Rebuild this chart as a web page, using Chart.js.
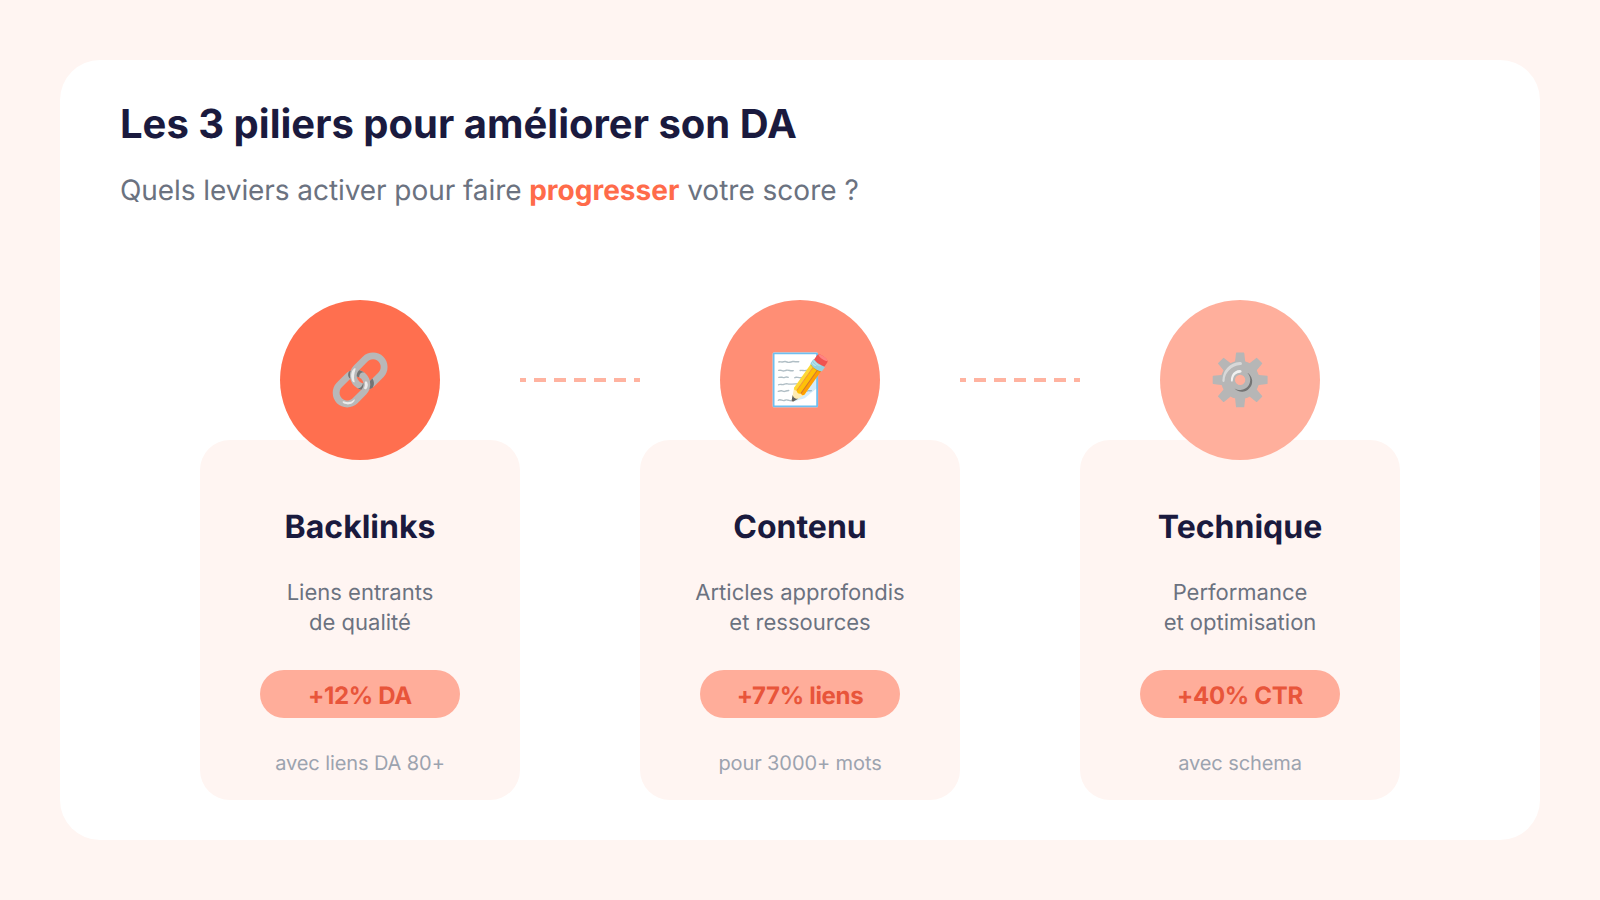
<!DOCTYPE html>
<html lang="fr">
<head>
<meta charset="utf-8">
<title>Les 3 piliers pour améliorer son DA</title>
<script src="https://cdn.jsdelivr.net/npm/chart.js@4"></script>
<style>
  html, body { margin: 0; padding: 0; width: 1600px; height: 900px; overflow: hidden; background: #fff5f2; font-family: Inter, sans-serif; text-rendering: geometricPrecision; }
  #panel { position: absolute; left: 60px; top: 60px; width: 1480px; height: 780px; background: #fff; border-radius: 40px; }
  h1 { position: absolute; left: 120px; top: 98px; margin: 0; font-size: 40px; line-height: 52px; font-weight: 700; color: #1a1a3e; white-space: nowrap; }
  #subtitle { position: absolute; left: 120px; top: 171px; margin: 0; font-size: 28px; line-height: 38px; color: #6b7280; white-space: nowrap; }
  #subtitle span { letter-spacing: -0.07px; }
  #subtitle strong { color: #ff6b4a; font-weight: 700; }
  .card { position: absolute; top: 440px; width: 320px; height: 360px; background: #fff5f2; border-radius: 30px; text-align: center; }
  .card h2 { position: absolute; left: 0; right: 0; top: 65px; margin: 0; font-size: 32px; line-height: 44px; font-weight: 700; color: #1a1a3e; }
  .card p { position: absolute; left: 0; right: 0; margin: 0; }
  .card .desc { top: 138px; font-size: 22px; line-height: 30px; color: #6b7280; }
  .card .badge { left: 60px; right: 60px; top: 230px; height: 48px; line-height: 52px; border-radius: 24px; background: #ffad9a; color: #e8553a; font-size: 24px; font-weight: 700; letter-spacing: -0.3px; }
  .card .note { top: 308px; font-size: 20px; line-height: 30px; color: #9ca3af; letter-spacing: -0.1px; }
  #chart { position: absolute; left: 0; top: 0; }
</style>
</head>
<body>
<div id="panel"></div>
<h1>Les 3 piliers pour améliorer son DA</h1>
<p id="subtitle"><span>Quels leviers activer pour faire </span><strong>progresser</strong> votre score ?</p>
<div id="cards"></div>
<canvas id="chart" width="1600" height="900"></canvas>
<script>
const pillarNames = ['Backlinks', 'Contenu', 'Technique'];
const pillarIcons = ['🔗', '📝', '⚙️'];
const pillarDescriptions = [
    ['Liens entrants', 'de qualité'],
    ['Articles approfondis', 'et ressources'],
    ['Performance', 'et optimisation']
];
const badgeValues = [12, 77, 40];
const badgeUnits = ['% DA', '% liens', '% CTR'];
const pillarNotes = ['avec liens DA 80+', 'pour 3000+ mots', 'avec schema'];
const circleColors = ['#ff6f4f', '#ff8e75', '#ffaf9c'];
// The chain and the gear are silver in the reference, the note keeps its colours
const iconFilters = ['grayscale(1) brightness(1.1)', 'none', 'grayscale(1) brightness(1.1)'];

// Page geometry: the pillars sit 440px apart, first one centred at x = 360
const pillarStep = 440;
const firstPillarX = 360;
const cardHalfWidth = 160;
const pillarRowY = 380;

// Cards with the text of each pillar
const cards = document.getElementById('cards');
pillarNames.forEach((name, i) => {
    const card = document.createElement('div');
    card.className = 'card';
    card.style.left = (firstPillarX + i * pillarStep - cardHalfWidth) + 'px';
    card.innerHTML = '<h2>' + name + '</h2>' +
        '<p class="desc">' + pillarDescriptions[i].join('<br>') + '</p>' +
        '<p class="badge">+' + badgeValues[i] + badgeUnits[i] + '</p>' +
        '<p class="note">' + pillarNotes[i] + '</p>';
    cards.appendChild(card);
});

// Circles, one per pillar
const circlePoints = pillarNames.map((_, i) => ({ x: i, y: 0 }));

// Dashed connectors from a card's right edge to the next card's left edge
const connectorDatasets = pillarNames.slice(1).map((_, i) => ({
    data: [
        { x: i + cardHalfWidth / pillarStep, y: 0 },
        { x: i + 1 - cardHalfWidth / pillarStep, y: 0 }
    ],
    showLine: true,
    borderColor: '#ffb3a0',
    borderWidth: 4,
    borderDash: [12, 8],
    borderDashOffset: 6,
    pointRadius: 0
}));

// Emoji on top of the circles, placed with the chart's own scales
const iconPlugin = {
    id: 'pillarIcons',
    afterDatasetsDraw(chart) {
        const { ctx, scales } = chart;
        ctx.save();
        ctx.font = '50px Inter, sans-serif';
        ctx.textAlign = 'center';
        ctx.textBaseline = 'middle';
        pillarIcons.forEach((icon, i) => {
            ctx.filter = iconFilters[i];
            // +2: the emoji font sits a little high on its middle baseline
            ctx.fillText(icon, scales.x.getPixelForValue(i), scales.y.getPixelForValue(0) + 2);
        });
        ctx.restore();
    }
};

new Chart(document.getElementById('chart'), {
    type: 'scatter',
    data: {
        datasets: [...connectorDatasets, {
            data: circlePoints,
            pointRadius: 80,
            pointHoverRadius: 80,
            pointBorderWidth: 0,
            backgroundColor: circleColors,
            clip: false
        }]
    },
    plugins: [iconPlugin],
    options: {
        responsive: false,
        animation: false,
        // no extra room for the big points, the scales have to fill the canvas
        layout: { padding: 0, autoPadding: false },
        plugins: { legend: { display: false }, tooltip: { enabled: false } },
        scales: {
            x: { type: 'linear', display: false, min: -firstPillarX / pillarStep, max: (1600 - firstPillarX) / pillarStep },
            y: { type: 'linear', display: false, min: pillarRowY - 900, max: pillarRowY }
        }
    }
});
</script>
</body>
</html>
